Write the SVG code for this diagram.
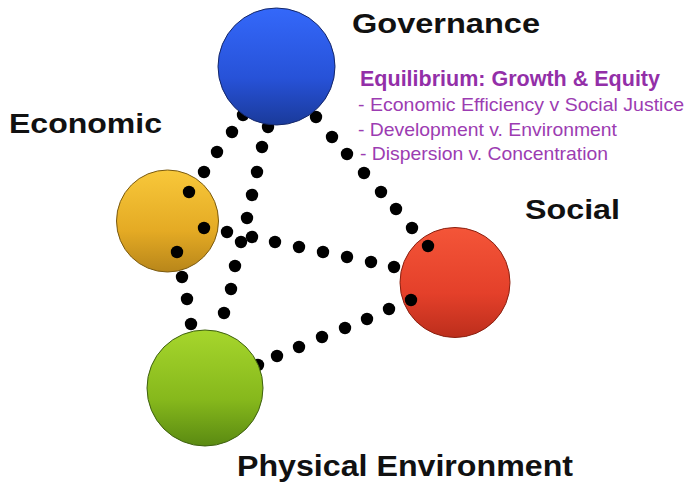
<svg xmlns="http://www.w3.org/2000/svg" width="688" height="483" viewBox="0 0 688 483">
<style>
.lbl{font-family:"Liberation Sans",Arial,sans-serif;font-weight:bold;fill:#111;}
.ttl{font-family:"Liberation Sans",Arial,sans-serif;font-weight:bold;fill:#932fa8;font-size:21.5px;}
.sub{font-family:"Liberation Sans",Arial,sans-serif;fill:#9c3cb2;font-size:19px;}
.conn{fill:none;stroke:none;marker-start:url(#dot);marker-mid:url(#dot);marker-end:url(#dot);}
</style>
<defs>
<marker id="dot" markerUnits="userSpaceOnUse" markerWidth="14" markerHeight="14" refX="7" refY="7" viewBox="0 0 14 14" overflow="visible"><circle cx="7" cy="7" r="6.2" fill="#000"/></marker>
<linearGradient id="gBlue" x1="0" y1="0" x2="0" y2="1"><stop offset="0" stop-color="#3468fa"/><stop offset="0.6" stop-color="#2752d8"/><stop offset="1" stop-color="#1a3a9a"/></linearGradient>
<linearGradient id="gYel" x1="0" y1="0" x2="0" y2="1"><stop offset="0" stop-color="#f8c83a"/><stop offset="0.6" stop-color="#e4aa24"/><stop offset="1" stop-color="#b8861a"/></linearGradient>
<linearGradient id="gGrn" x1="0" y1="0" x2="0" y2="1"><stop offset="0" stop-color="#a6d62c"/><stop offset="0.6" stop-color="#86b81c"/><stop offset="1" stop-color="#5a8a12"/></linearGradient>
<linearGradient id="gRed" x1="0" y1="0" x2="0" y2="1"><stop offset="0" stop-color="#f45538"/><stop offset="0.6" stop-color="#e4402a"/><stop offset="1" stop-color="#bc2e1c"/></linearGradient>
</defs>
<rect width="688" height="483" fill="#fff"/>
<g id="economic"><circle cx="167.5" cy="221" r="51" fill="url(#gYel)" stroke="#7a5a10" stroke-width="1"/></g>
<g id="social"><circle cx="455" cy="282.5" r="55" fill="url(#gRed)" stroke="#8a2010" stroke-width="1"/></g>
<g id="connectors">
<polyline class="conn" points="243,115 232,132 217,152 204,172 189,192"/>
<polyline class="conn" points="177,252 182,277 187,299 191,324"/>
<polyline class="conn" points="268,127 262,147 257,172 252,195 247,218 241,242 235,266 231,289 224,313"/>
<polyline class="conn" points="204,228 227,232 252,237 275,242 299,247 323,252 347,257 371,262 394,267"/>
<polyline class="conn" points="316,117 332,137 347,154 364,173 381,192 396,209 412,228 428,246"/>
<polyline class="conn" points="258,365 277,356 299,347 322,337 345,328 367,319 389,309 411,300"/>
</g>
<g id="governance"><circle cx="276.5" cy="66.5" r="58.5" fill="url(#gBlue)" stroke="#14276a" stroke-width="1"/></g>
<g id="physical"><circle cx="205" cy="388" r="58" fill="url(#gGrn)" stroke="#3e6010" stroke-width="1"/></g>
<g id="labels">
<text class="lbl" x="352" y="33" font-size="28" textLength="188" lengthAdjust="spacingAndGlyphs">Governance</text>
<text class="lbl" x="9" y="133" font-size="28" textLength="153" lengthAdjust="spacingAndGlyphs">Economic</text>
<text class="lbl" x="525" y="219" font-size="28" textLength="95" lengthAdjust="spacingAndGlyphs">Social</text>
<text class="lbl" x="237" y="476" font-size="30" textLength="336" lengthAdjust="spacingAndGlyphs">Physical Environment</text>
</g>
<g id="equilibrium">
<text class="ttl" x="360" y="86" textLength="300" lengthAdjust="spacingAndGlyphs">Equilibrium: Growth &amp; Equity</text>
<text class="sub" x="358" y="111" textLength="326" lengthAdjust="spacingAndGlyphs">- Economic Efficiency v Social Justice</text>
<text class="sub" x="358" y="136" textLength="259" lengthAdjust="spacingAndGlyphs">- Development v. Environment</text>
<text class="sub" x="360" y="160" textLength="248" lengthAdjust="spacingAndGlyphs">- Dispersion v. Concentration</text>
</g>
</svg>
